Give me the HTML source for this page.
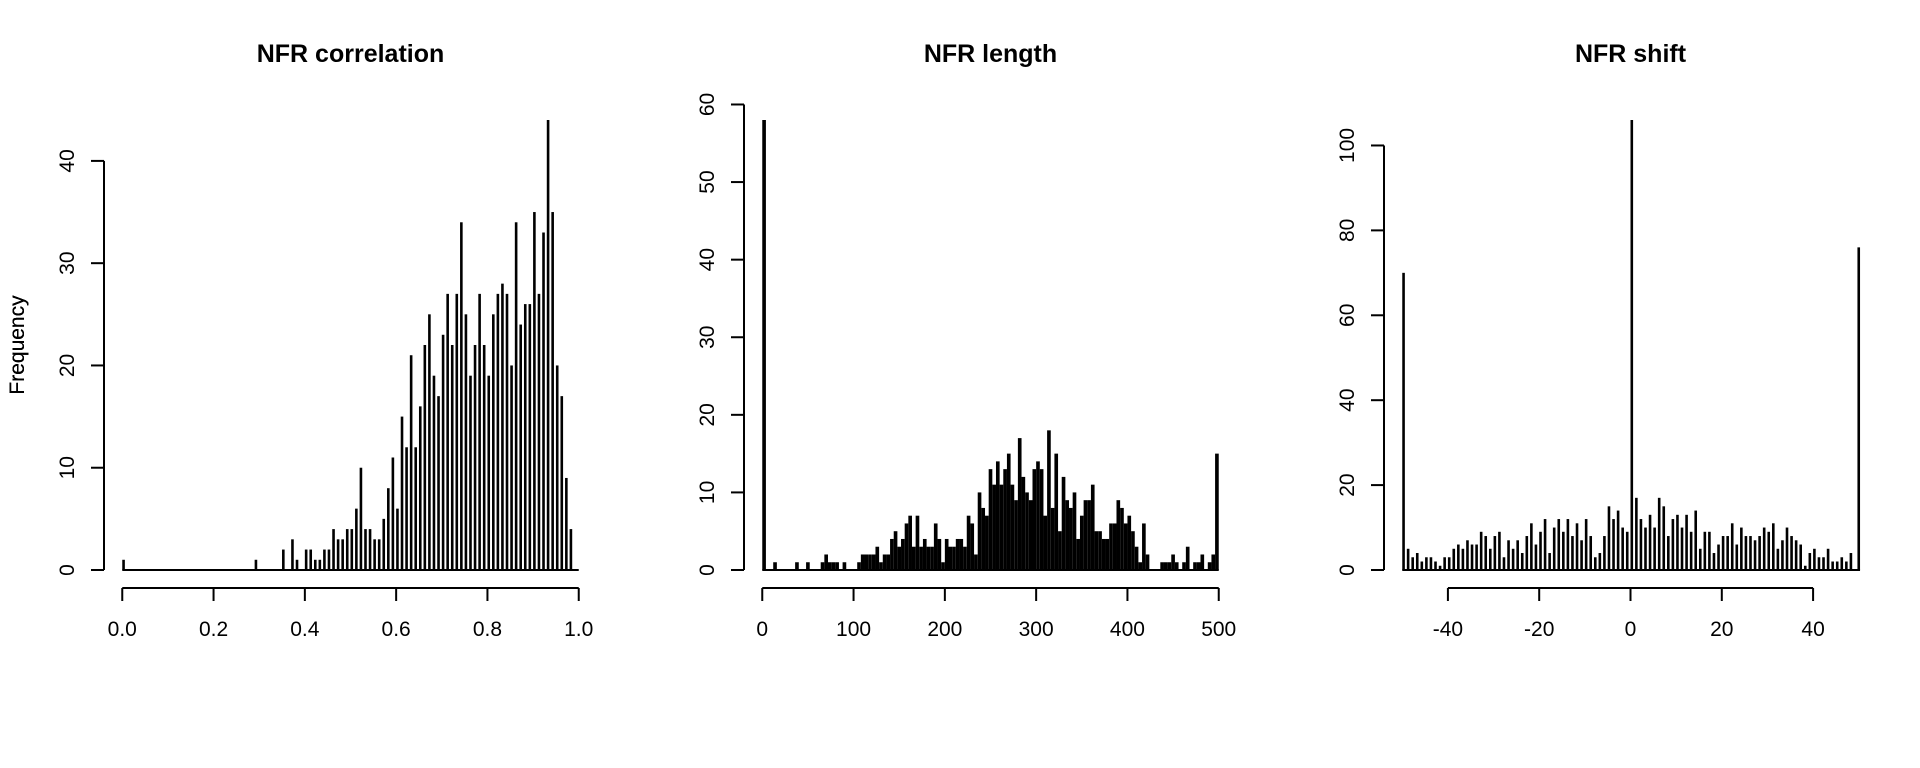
<!DOCTYPE html>
<html><head><meta charset="utf-8"><style>
html,body{margin:0;padding:0;background:#fff;}
svg{display:block;font-family:"Liberation Sans",Arial,sans-serif;}
</style></head><body>
<svg id="chart" width="1920" height="768" viewBox="0 0 1920 768" xmlns="http://www.w3.org/2000/svg"></svg>
<script>
// Panel 1: NFR correlation, bins of 0.01 starting at 0.00
const corrCounts = [1,0,0,0,0,0,0,0,0,0, 0,0,0,0,0,0,0,0,0,0, 0,0,0,0,0,0,0,0,0,1,
 0,0,0,0,0,2,0,3,1,0, 2,2,1,1,2,2,4,3,3,4, 4,6,10,4,4,3,3,5,8,11, 6,15,12,21,12,16,22,25,19,17,
 23,27,22,27,34,25,19,22,27,22, 19,25,27,28,27,20,34,24,26,26, 35,27,33,44,35,20,17,9,4,0];
const corrXTicks = [0,0.2,0.4,0.6,0.8,1.0];
const corrXLabels = ["0.0","0.2","0.4","0.6","0.8","1.0"];
const corrYTicks = [0,10,20,30,40];

// Panel 2: NFR length, bins of 4 starting at 0
const lenCounts = [58,0,0,1,0,0,0,0,0,1, 0,0,1,0,0,0,1,2,1,1, 1,0,1,0,0,0,1,2,2,2,
 2,3,1,2,2,4,5,3,4,6, 7,3,7,3,4,3,3,6,4,1, 4,3,3,4,4,3,7,6,2,10,
 8,7,13,11,14,11,13,15,11,9, 17,12,10,9,13,14,13,7,18,8, 15,5,12,9,8,10,4,7,9,9,
 11,5,5,4,4,6,6,9,8,6, 7,5,3,1,6,2,0,0,0,1, 1,1,2,1,0,1,3,0,1,1, 2,0,1,2,15];
const lenBinWidth = 4;
const lenXTicks = [0,100,200,300,400,500];
const lenYTicks = [0,10,20,30,40,50,60];

// Panel 3: NFR shift, integer values -50..50
const shiftCounts = [70,5,3,4,2,3,3,2,1,3, 3,5,6,5,7,6,6,9,8,5, 8,9,3,7,5,7,4,8,11,6,
 9,12,4,10,12,9,12,8,11,7, 12,8,3,4,8,15,12,14,10,9, 106,17,12,10,13,10,17,15,8,12,
 13,10,13,9,14,5,9,9,4,6, 8,8,11,6,10,8,8,7,8,10, 9,11,5,7,10,8,7,6,1,4,
 5,3,3,5,2,2,3,2,4,0,76];
const shiftStart = -50;
const shiftXTicks = [-40,-20,0,20,40];
const shiftYTicks = [0,20,40,60,80,100];

const NS = "http://www.w3.org/2000/svg";
const svg = document.getElementById("chart");
function mk(tag, attrs, parent){
  const e = document.createElementNS(NS, tag);
  for (const k in attrs) e.setAttribute(k, attrs[k]);
  (parent||svg).appendChild(e);
  return e;
}
const PLOT_TOP = 102, PLOT_BOTTOM = 588;
function makeScale(d0, d1, r0, r1){
  const ext = (d1 - d0) * 0.04;
  const a = d0 - ext, b = d1 + ext;
  return v => r0 + (v - a) / (b - a) * (r1 - r0);
}

function panel(opt){
  const g = mk("g", {});
  
  
  const L = opt.left, R = opt.left + 493;
  const x = makeScale(opt.xmin, opt.xmax, L, R);
  const y = makeScale(0, opt.ymax, PLOT_BOTTOM, PLOT_TOP);
  const t = mk("text", {x:(L+R)/2, y:62, "text-anchor":"middle", "font-size":25, "font-weight":"bold"}, g);
  t.textContent = opt.title;
  
  
  const yl = mk("text", {x:0, y:0, "text-anchor":"middle", "font-size":21, transform:`translate(24,345) rotate(-90)`}, g);
  yl.textContent = "Frequency";
  
  
  const bg = mk("g", {}, g);
  
  
  opt.counts.forEach((c, i) => {
    if (c <= 0) return;
    const v = opt.binStart + i * opt.binWidth;
    let x0 = x(v), w = opt.filled ? (x(v + opt.binWidth) - x(v)) : 2.6;
    if (!opt.filled && i === opt.counts.length - 1 && opt.lastAtEnd) x0 = x(v) - 1.3;
    const r = mk("rect", {x:x0, y:y(c), width:w, height:y(0)-y(c), fill:"#000"}, bg);
    
    
  });
  const bl = mk("line", {x1:x(opt.binStart), x2:x(opt.binStart + opt.counts.length*opt.binWidth) , y1:y(0), y2:y(0), stroke:"#000", "stroke-width":2}, g);
  if (opt.lastAtEnd) bl.setAttribute("x2", x(opt.binStart + (opt.counts.length-1)*opt.binWidth)+1.3);
  
  
  const ya = mk("g", {}, g);
  
  
  const yt = opt.yTicks;
  mk("line", {x1:L, x2:L, y1:y(yt[0]), y2:y(yt[yt.length-1]), stroke:"#000", "stroke-width":2}, ya);
  yt.forEach(v => {
    mk("line", {x1:L-13, x2:L, y1:y(v), y2:y(v), stroke:"#000", "stroke-width":2}, ya);
    const tx = mk("text", {x:0, y:0, "text-anchor":"middle", "font-size":21, transform:`translate(${L-30},${y(v)}) rotate(-90)`}, ya);
    tx.textContent = String(v);
    
    
  });
  const xa = mk("g", {}, g);
  
  
  const xt = opt.xTicks;
  mk("line", {x1:x(xt[0]), x2:x(xt[xt.length-1]), y1:588, y2:588, stroke:"#000", "stroke-width":2}, xa);
  xt.forEach((v, i) => {
    mk("line", {x1:x(v), x2:x(v), y1:588, y2:601, stroke:"#000", "stroke-width":2}, xa);
    const tx = mk("text", {x:x(v), y:636, "text-anchor":"middle", "font-size":21}, xa);
    tx.textContent = opt.xLabels ? opt.xLabels[i] : String(v);
    
    
  });
}

panel({name:"nfr-correlation-panel", title:"NFR correlation", left:104, xmin:0, xmax:1, ymax:44,
  counts:corrCounts, binStart:0, binWidth:0.01, filled:false, xTicks:corrXTicks, xLabels:corrXLabels, yTicks:corrYTicks});
panel({name:"nfr-length-panel", title:"NFR length", left:744, xmin:0, xmax:500, ymax:58,
  counts:lenCounts, binStart:0, binWidth:lenBinWidth, filled:true, xTicks:lenXTicks, yTicks:lenYTicks});
panel({name:"nfr-shift-panel", title:"NFR shift", left:1384, xmin:-50, xmax:50, ymax:106,
  counts:shiftCounts, binStart:shiftStart, binWidth:1, filled:false, lastAtEnd:true, xTicks:shiftXTicks, yTicks:shiftYTicks});
</script>
</body></html>
